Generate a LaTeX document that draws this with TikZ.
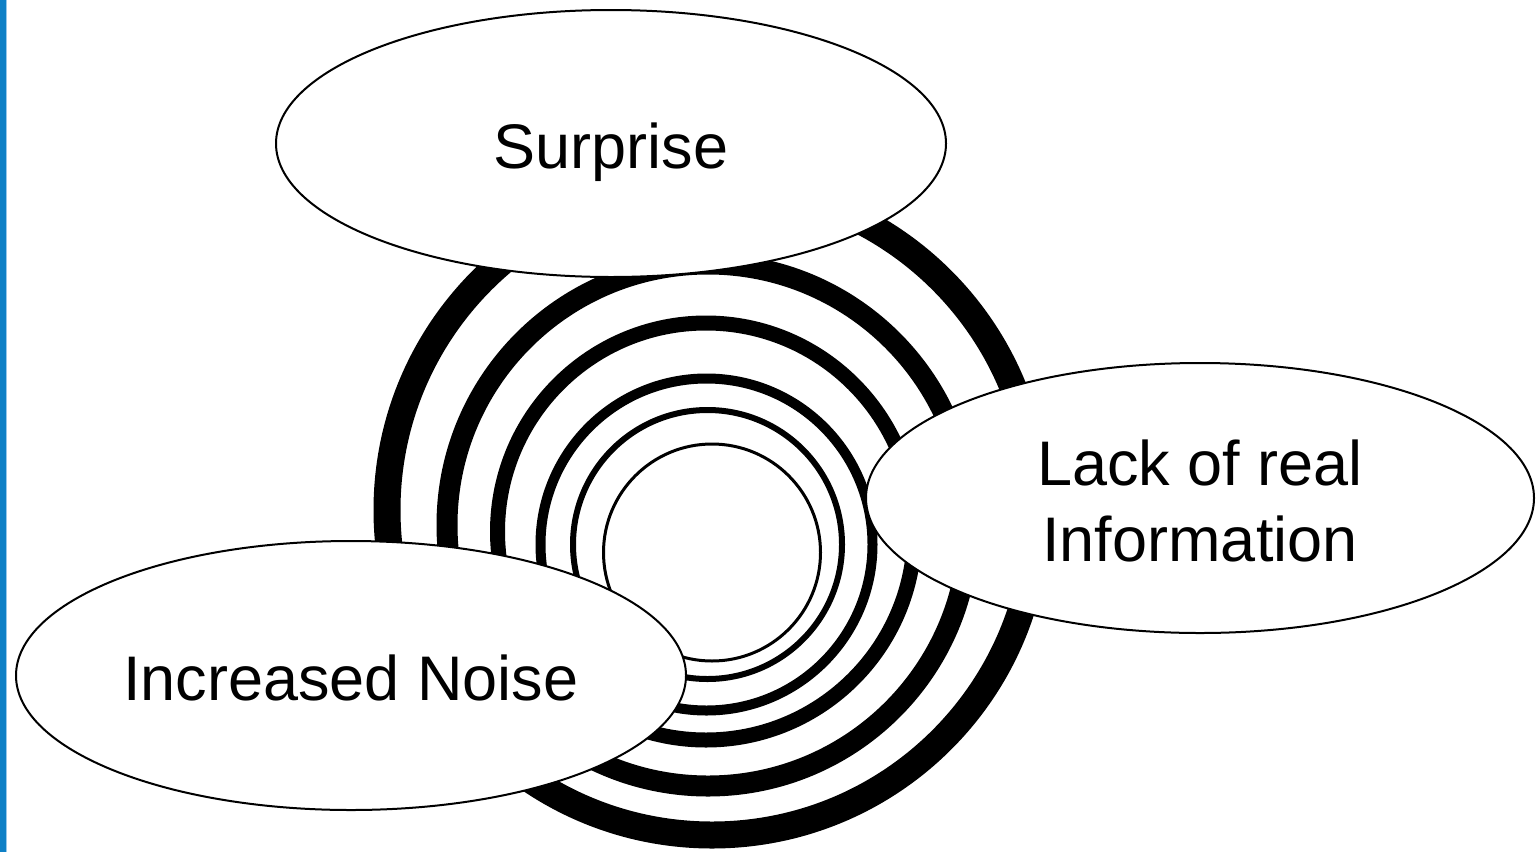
\documentclass[tikz,border=0pt]{standalone}
\usepackage{fontspec}
\setmainfont{Liberation Sans}
\usetikzlibrary{shapes.geometric}
\definecolor{edgeblue}{RGB}{14,128,198}
\definecolor{edgelight}{RGB}{150,200,235}
\tikzset{
  bubble/.style={ellipse, draw=black, line width=2pt, fill=white, inner sep=0pt,
    minimum width=670pt, minimum height=268pt},
  bubbletext/.style={anchor=base, align=center, font=\fontsize{63}{75}\selectfont},
  ring/.style={draw=black}
}
\begin{document}
\begin{tikzpicture}[x=1pt,y=-1pt]
\useasboundingbox (0,0) rectangle (1539,852);
\fill[white] (0,0) rectangle (1539,852);
\fill[edgeblue] (0,0) rectangle (5.5,852);
\fill[edgelight] (5.5,0) rectangle (7,852);
% concentric rings
\draw[ring, line width=27pt] (712,510) circle (325pt);
\draw[ring, line width=21pt] (708,525) circle (261pt);
\draw[ring, line width=15pt] (706,531.5) circle (208.5pt);
\draw[ring, line width=10pt] (706.5,544.5) circle (166pt);
\draw[ring, line width=6pt] (707.5,544.5) circle (134.5pt);
\draw[ring, line width=3pt] (712,552.5) circle (108.5pt);
% ellipses
\node[bubble, minimum width=670pt, minimum height=267pt] (surprise) at (611,143.5) {};
\node[bubble, minimum width=668pt, minimum height=270pt] (lack) at (1200,498) {};
\node[bubble, minimum width=670pt, minimum height=269pt] (noise) at (351,675.5) {};
\node[bubbletext] (surprisetext) at (611,168) {Surprise};
\node[bubbletext] (lacktext) at (1200,485) {Lack of real};
\node[bubbletext] (infotext) at (1200,561) {Information};
\node[bubbletext] (noisetext) at (351,700) {Increased Noise};
\end{tikzpicture}
\end{document}
